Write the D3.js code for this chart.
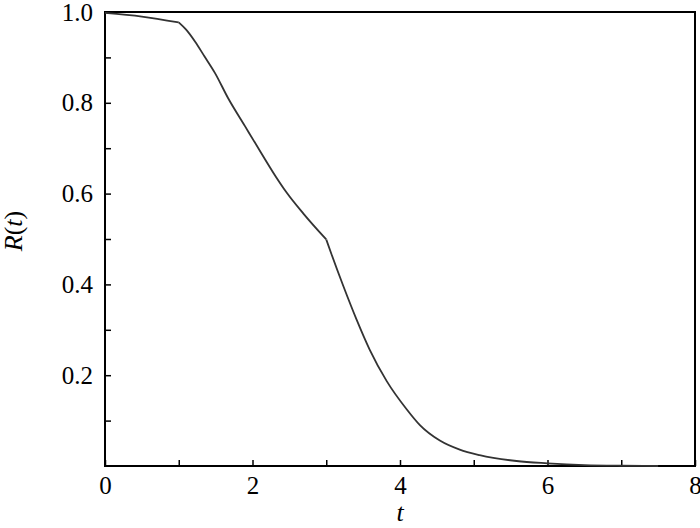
<!DOCTYPE html>
<html>
<head>
<meta charset="utf-8">
<script src="https://cdn.jsdelivr.net/npm/d3@7"></script>
<style>
  body { margin: 0; background: #fff; }
  svg { display: block; }
</style>
</head>
<body>
<div id="chart"></div>
<script>
// R(t), three pieces split at the kinks (t = 1 and t = 3)
const seg1 = [[0, 0.998], [0.5, 0.99], [1.0, 0.977]];
const seg2 = [[1.0, 0.977], [1.1, 0.961], [1.22, 0.935], [1.35, 0.902], [1.49, 0.866],
              [1.67, 0.810], [1.90, 0.748], [2.12, 0.689], [2.31, 0.639], [2.46, 0.603],
              [2.69, 0.556], [3.0, 0.499]];
const seg3 = [[3.0, 0.499], [3.07, 0.467], [3.23, 0.397], [3.41, 0.323], [3.59, 0.256],
              [3.82, 0.187], [4.09, 0.125], [4.27, 0.090], [4.54, 0.056], [4.81, 0.036],
              [5.08, 0.024], [5.58, 0.011], [6.0, 0.006], [6.5, 0.002], [7.0, 0.0005], [7.5, 0.0]];

const xMajor = [0, 2, 4, 6, 8];
const xMinor = [1, 3, 5, 7];
const yMajor = [0.2, 0.4, 0.6, 0.8, 1.0];
const yMinor = [0.1, 0.3, 0.5, 0.7, 0.9];

const serif = "'Liberation Serif', 'Times New Roman', serif";
const width = 700, height = 528;
const margin = { left: 105, right: 5, top: 12, bottom: 62 };

const svg = d3.select("#chart").append("svg")
    .attr("width", width)
    .attr("height", height);

const x = d3.scaleLinear().domain([0, 8]).range([margin.left, width - margin.right]);
const y = d3.scaleLinear().domain([0, 1]).range([height - margin.bottom, margin.top]);

function styleAxis(g) {
    g.select(".domain").remove();
    g.selectAll("line").attr("stroke", "#000").attr("stroke-width", 1.5);
    g.selectAll("text")
        .style("font-family", serif)
        .style("font-size", "25px")
        .attr("fill", "#000");
}

// minor ticks (no labels)
svg.append("g")
    .attr("transform", `translate(0,${y(0)})`)
    .call(d3.axisBottom(x).tickValues(xMinor).tickSize(-6).tickFormat(""))
    .call(styleAxis);

svg.append("g")
    .attr("transform", `translate(${x(0)},0)`)
    .call(d3.axisLeft(y).tickValues(yMinor).tickSize(-6).tickFormat(""))
    .call(styleAxis);

// major ticks with labels
svg.append("g")
    .attr("transform", `translate(0,${y(0)})`)
    .call(d3.axisBottom(x).tickValues(xMajor).tickSize(-6).tickPadding(10).tickFormat(d3.format("d")))
    .call(styleAxis);

svg.append("g")
    .attr("transform", `translate(${x(0)},0)`)
    .call(d3.axisLeft(y).tickValues(yMajor).tickSize(-6).tickPadding(12).tickFormat(d3.format(".1f")))
    .call(styleAxis);

// frame
svg.append("rect")
    .attr("x", x(0)).attr("y", y(1))
    .attr("width", x(8) - x(0)).attr("height", y(0) - y(1))
    .attr("fill", "none").attr("stroke", "#000").attr("stroke-width", 2);

// curve
const line = d3.line()
    .x(d => x(d[0]))
    .y(d => y(d[1]))
    .curve(d3.curveMonotoneX);

svg.selectAll("path.curve")
    .data([seg1, seg2, seg3])
    .join("path")
    .attr("class", "curve")
    .attr("d", line)
    .attr("fill", "none")
    .attr("stroke", "#333")
    .attr("stroke-width", 1.8);

// axis titles
svg.append("text")
    .attr("x", x(4)).attr("y", 521)
    .attr("text-anchor", "middle")
    .style("font-family", serif)
    .style("font-style", "italic")
    .style("font-size", "26px")
    .text("t");

const yTitle = svg.append("text")
    .attr("transform", `translate(22,231) rotate(-90)`)
    .attr("text-anchor", "middle")
    .style("font-family", serif)
    .style("font-size", "26px");
yTitle.append("tspan").style("font-style", "italic").text("R");
yTitle.append("tspan").text("(");
yTitle.append("tspan").style("font-style", "italic").text("t");
yTitle.append("tspan").text(")");
</script>
</body>
</html>
